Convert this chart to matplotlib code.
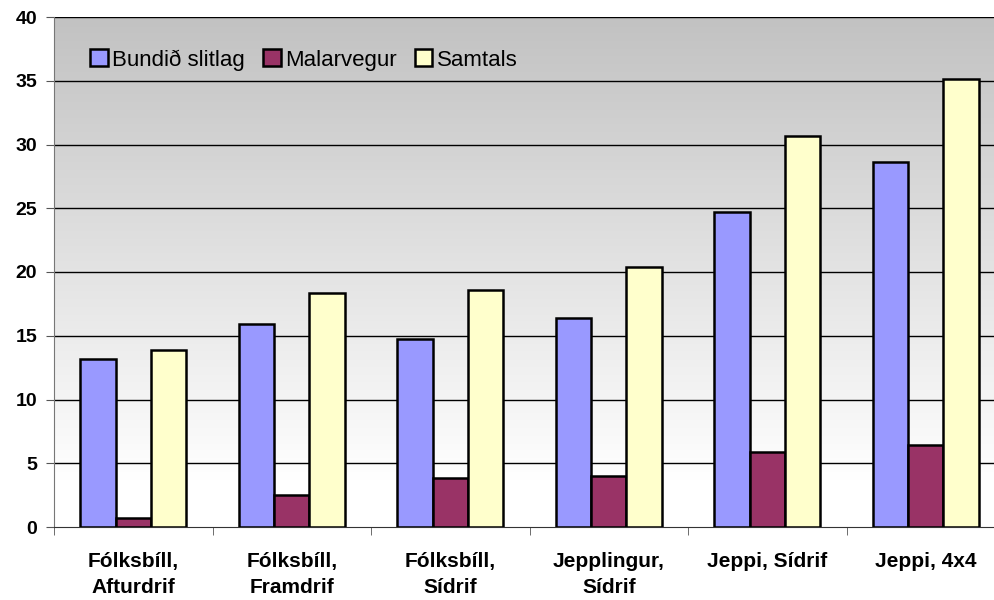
import matplotlib.pyplot as plt
import numpy as np
from matplotlib.colors import LinearSegmentedColormap

categories = ["Fólksbíll,\nAfturdrif", "Fólksbíll,\nFramdrif", "Fólksbíll,\nSídrif",
              "Jepplingur,\nSídrif", "Jeppi, Sídrif", "Jeppi, 4x4"]
bundid = [13.2, 15.9, 14.75, 16.4, 24.7, 28.6]
malar = [0.7, 2.5, 3.85, 4.0, 5.9, 6.4]
samtals = [13.9, 18.35, 18.6, 20.4, 30.7, 35.1]
series_names = ["Bundið slitlag", "Malarvegur", "Samtals"]
colors = ["#9999FF", "#993366", "#FFFFCC"]

plt.rcParams['font.family'] = ['Liberation Sans', 'DejaVu Sans']

fig = plt.figure(figsize=(9.94, 6), dpi=100)
ax = fig.add_axes([54 / 994, 73 / 600, 951 / 994, 510 / 600])

# gradient background: grey at top fading to white near the bottom
yy = np.linspace(0, 40, 400)
frac = np.clip((yy - 3.5) / (40 - 3.5), 0, 1)
grad = frac[::-1].reshape(-1, 1)
cmap = LinearSegmentedColormap.from_list("bg", ["#ffffff", "#c2c2c2"])
ax.imshow(grad, extent=[-0.5, 5.5, 0, 40], aspect="auto", cmap=cmap,
          vmin=0, vmax=1, zorder=0)

x = np.arange(len(categories))
w = 1 / 4.5
for i, (vals, name, c) in enumerate(zip([bundid, malar, samtals], series_names, colors)):
    ax.bar(x + (i - 1) * w, vals, w, color=c, edgecolor="black", linewidth=1.8,
           label=name, zorder=3)

ax.set_xlim(-0.5, 5.5)
ax.set_ylim(0, 40)
ax.set_yticks(range(0, 41, 5))
for v in range(5, 41, 5):
    ax.axhline(v, color="black", linewidth=1, zorder=1)

ax.set_xticks(x)
ax.set_xticklabels(categories, fontsize=15, fontweight="bold", linespacing=1.45)
ax.set_xticks(np.arange(-0.5, 5.6, 1), minor=True)
ax.tick_params(axis="x", which="major", length=0, pad=18)
ax.tick_params(axis="x", which="minor", length=6, color="#555555")
ax.tick_params(axis="y", length=6, color="#555555", labelsize=14, pad=6)
for lab in ax.get_yticklabels():
    lab.set_fontweight("bold")

for s in ["top", "right"]:
    ax.spines[s].set_visible(False)
ax.spines["left"].set_color("#777777")
ax.spines["bottom"].set_color("#333333")

ax.legend(loc="center left", bbox_to_anchor=(0.038, 0.916), ncol=3, frameon=False,
          fontsize=16, handlelength=0.8, handleheight=0.8, handletextpad=0.2,
          columnspacing=0.8, borderaxespad=0, borderpad=0)

fig.savefig("out.png", dpi=100)
